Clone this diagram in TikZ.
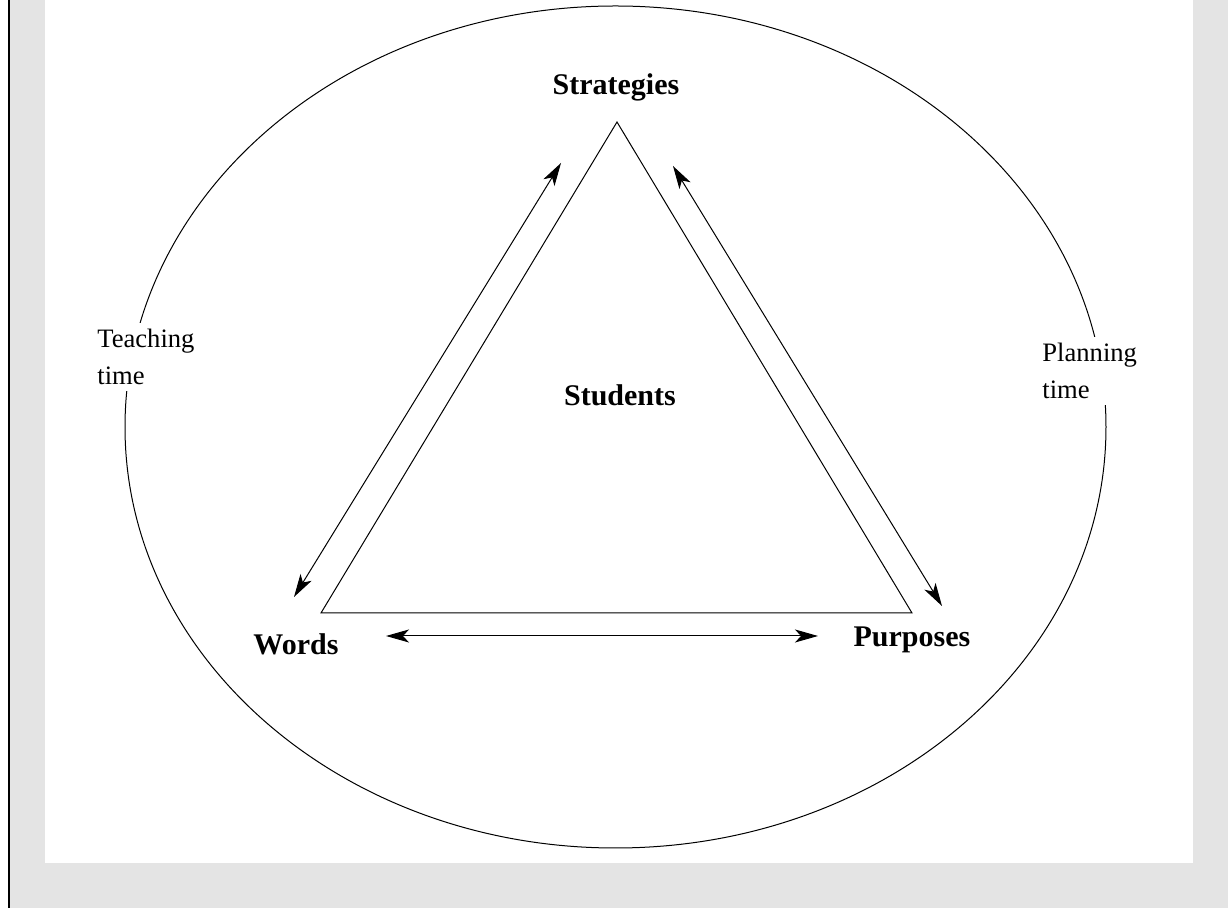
\documentclass[tikz,border=0pt]{standalone}
\usepackage{fontspec}
\setmainfont{Liberation Serif}
\usetikzlibrary{arrows.meta}
\definecolor{panelgray}{HTML}{E4E4E4}

\begin{document}
\begin{tikzpicture}[x=0.5pt, y=-0.5pt,
    corner/.style={font=\fontsize{15}{17}\selectfont\bfseries, anchor=base},
    timelabel/.style={font=\fontsize{13.3}{18.3}\selectfont, align=left, fill=white, anchor=west, inner xsep=2pt, inner ysep=3pt},
    twoway/.style={{Stealth[length=11.5pt,width=6.5pt,inset=3pt]}-{Stealth[length=11.5pt,width=6.5pt,inset=3pt]}, line width=0.5pt}]
			% Background
			\useasboundingbox (0,0) rectangle (1228,908);
			\fill[panelgray] (9,0) rectangle (1228,908);
			\fill[white] (45,0) rectangle (1193,863);
			\draw[line width=1pt] (8.5,0) -- (8.5,908);

			% Circle of time
			\draw[line width=0.5pt] (615.5,427) ellipse (490.5 and 421);

			% Triangle
			\coordinate (top) at (617,122);
			\coordinate (left) at (321,613);
			\coordinate (right) at (912,613);
			\draw[line width=0.5pt] (top) -- (left) -- (right) -- cycle;

			% Nodes
			\node[corner] (strategies) at (616,95) {Strategies};
			\node[corner] (students) at (620,406) {Students};
			\node[corner] (words) at (296,655) {Words};
			\node[corner] (purposes) at (912,647) {Purposes};
			\node[timelabel] (teaching) at (93,357) {Teaching\\time};
			\node[timelabel] (planning) at (1038,371) {Planning\\time};

			% Edges
			\coordinate (lu) at (561,163);
			\coordinate (ld) at (294,597);
			\coordinate (ru) at (673,166);
			\coordinate (rd) at (942,606);
			\coordinate (bl) at (386,636);
			\coordinate (br) at (818,636);
			\draw[twoway] (lu) -- (ld);
			\draw[twoway] (ru) -- (rd);
			\draw[twoway] (bl) -- (br);
		\end{tikzpicture}
\end{document}
